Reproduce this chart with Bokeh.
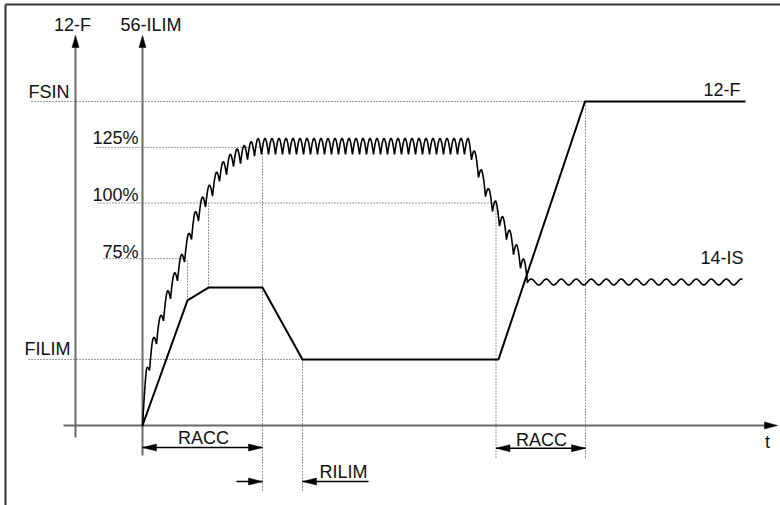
import numpy as np
from bokeh.plotting import figure
from bokeh.models import Range1d, ColumnDataSource
from bokeh.core.properties import value
from bokeh.embed import file_html
from bokeh.resources import INLINE

# ---------------- data (time units, level in % of ILIM scale) ----------------
FSIN = 145.6
FILIM = 29.7
LEVELS = [125, 100, 75]
LEVEL_LABELS = ["125%", "100%", "75%"]

# 12-F output frequency profile
f_t = [0, 45, 66, 120, 160, 356, 442.5, 603]
f_y = [0, 56.2, 62.0, 62.0, FILIM, FILIM, FSIN, FSIN]

# 14-IS current: upper envelope of the ripple
env_t = [0, 4, 10, 18, 25, 34, 43, 52, 62, 71, 77, 85, 91, 98, 105, 111, 116,
         326, 330, 335, 340, 346, 353, 358, 365, 371, 378, 385]
env_y = [6.74, 25.6, 38.2, 49.4, 60.7, 71.0, 81.8, 95.3, 104.7, 111.0, 116.9,
         120.4, 123.6, 124.9, 126.7, 128.1, 129.0, 129.0, 125.8, 120.0, 113.7,
         106.5, 101.1, 95.7, 89.9, 84.0, 77.8, 71.2]
ripple_amp = 7.2       # current ripple height (% units)
ripple_period = 7.0    # time units per ripple arch
tail_level = 64.5      # 14-IS steady level
tail_amp = 1.3
tail_period = 15.0
tail_end = 600

# dotted reference lines
dot_h_y = [FSIN, 125, 100, 75, FILIM]
dot_h_t0 = [-111, -46, -45, -39, -114]
dot_h_t1 = [442.5, 120, 353.5, 45, 160]
dot_v_t = [45, 66, 120, 160, 353.5, 443]
dot_v_y0 = [56.2, 62.0, -29.2, -29.2, -14.4, -14.4]
dot_v_y1 = [75, 100, 125, FILIM, 100, FSIN]

# axes
ax_f_t, ax_f_y0, ax_f_y1 = -67, -5.4, 175.3
ax_i_t, ax_i_y0, ax_i_y1 = 0, -13.5, 175.3
ax_t_t0, ax_t_t1 = -79, 635

# dimension arrows
racc1 = (0, 120, -9.9)
racc2 = (353.5, 443, -10.2)
rilim_left = (94, 120, -25.2)
rilim_right = (160, 226, -25.2)

# labels
lab_text = ["12-F", "56-ILIM", "FSIN", "125%", "100%", "75%", "FILIM",
            "12-F", "14-IS", "t", "RACC", "RACC", "RILIM"]
lab_t = [-70, 8.5, -114, -4, -4, -4, -118, 598, 601, 625, 61, 399, 177]
lab_y = [179.8, 179.8, 149.7, 129.4, 103.8, 78.2, 34.2, 151.0, 75.5, -7.6,
         -5.4, -6.3, -21.1]
lab_align = ["center", "center", "left", "right", "right", "right", "left",
             "right", "right", "center", "center", "center", "left"]

# ---------------- figure ----------------
W, H = 780, 505
X0, X1 = -142, 638
Y0, Y1 = -35.955, 191.011
sx = W / (X1 - X0)
sy = H / (Y1 - Y0)

p = figure(width=W, height=H, output_backend="svg", toolbar_location=None,
           x_range=Range1d(X0, X1), y_range=Range1d(Y0, Y1), min_border=0)
p.axis.visible = False
p.grid.visible = False
p.outline_line_color = None
p.background_fill_color = "white"
p.border_fill_color = "white"

# frame (top and left edges)
fr_t = X0 + 5 / sx
fr_y = Y1 - 4 / sy
p.segment(x0=[fr_t, fr_t], y0=[fr_y, Y0], x1=[X1, fr_t], y1=[fr_y, fr_y],
          line_color="#333333", line_width=2)

# dotted lines
p.segment(x0=dot_h_t0, y0=dot_h_y, x1=dot_h_t1, y1=dot_h_y,
          line_color="#333333", line_width=1, line_dash="1 2")
p.segment(x0=dot_v_t, y0=dot_v_y0, x1=dot_v_t, y1=dot_v_y1,
          line_color="#333333", line_width=1, line_dash="1 2")


def head(tip_t, tip_y, direction, length=13.0, half=3.5):
    if direction == "up":
        return ([tip_t, tip_t - half / sx, tip_t + half / sx],
                [tip_y, tip_y - length / sy, tip_y - length / sy])
    if direction == "right":
        return ([tip_t, tip_t - length / sx, tip_t - length / sx],
                [tip_y, tip_y + half / sy, tip_y - half / sy])
    return ([tip_t, tip_t + length / sx, tip_t + length / sx],
            [tip_y, tip_y + half / sy, tip_y - half / sy])


# axes lines
p.segment(x0=[ax_f_t, ax_i_t, ax_t_t0], y0=[ax_f_y0, ax_i_y0, 0],
          x1=[ax_f_t, ax_i_t, ax_t_t1 - 12 / sx],
          y1=[ax_f_y1 - 11 / sy, ax_i_y1 - 11 / sy, 0],
          line_color="#6a6a6a", line_width=2)
heads = [head(ax_f_t, ax_f_y1, "up", 12), head(ax_i_t, ax_i_y1, "up", 12),
         head(ax_t_t1, 0, "right", 13)]

# dimension arrows
for (a, b, y) in [racc1, racc2]:
    p.line([a, b], [y, y], line_color="black", line_width=1.5)
    heads.append(head(a, y, "left", 14))
    heads.append(head(b, y, "right", 14))
p.line([rilim_left[0], rilim_left[1]], [rilim_left[2]] * 2, line_color="black", line_width=1.5)
heads.append(head(rilim_left[1], rilim_left[2], "right", 14))
p.line([rilim_right[0], rilim_right[1]], [rilim_right[2]] * 2, line_color="black", line_width=1.5)
heads.append(head(rilim_right[0], rilim_right[2], "left", 14))

p.patches(xs=[h[0] for h in heads], ys=[h[1] for h in heads],
          fill_color="black", line_color="black", line_width=0.5)

# 12-F frequency
p.line(f_t, f_y, line_color="black", line_width=2)

# 14-IS current with ripple
tt = np.arange(0, env_t[-1] + 0.001, 0.2)
top = np.interp(tt, env_t, env_y)
cur = top - ripple_amp * (1 - np.abs(np.sin(np.pi * tt / ripple_period)))
tt2 = np.arange(env_t[-1], tail_end + 0.001, 0.5)
cur2 = tail_level + tail_amp * np.sin(2 * np.pi * (tt2 - env_t[-1]) / tail_period)
p.line(np.concatenate([tt, tt2]), np.concatenate([cur, cur2]),
       line_color="black", line_width=1.6)

# labels
src = ColumnDataSource(dict(x=lab_t, y=lab_y, text=lab_text, align=lab_align))
p.text(x="x", y="y", text="text", source=src, text_align="align",
       text_baseline="alphabetic", text_font=value("Liberation Sans"),
       text_font_size=value("18px"), text_color="#111111")

open("out.html", "w").write(file_html(p, INLINE))
